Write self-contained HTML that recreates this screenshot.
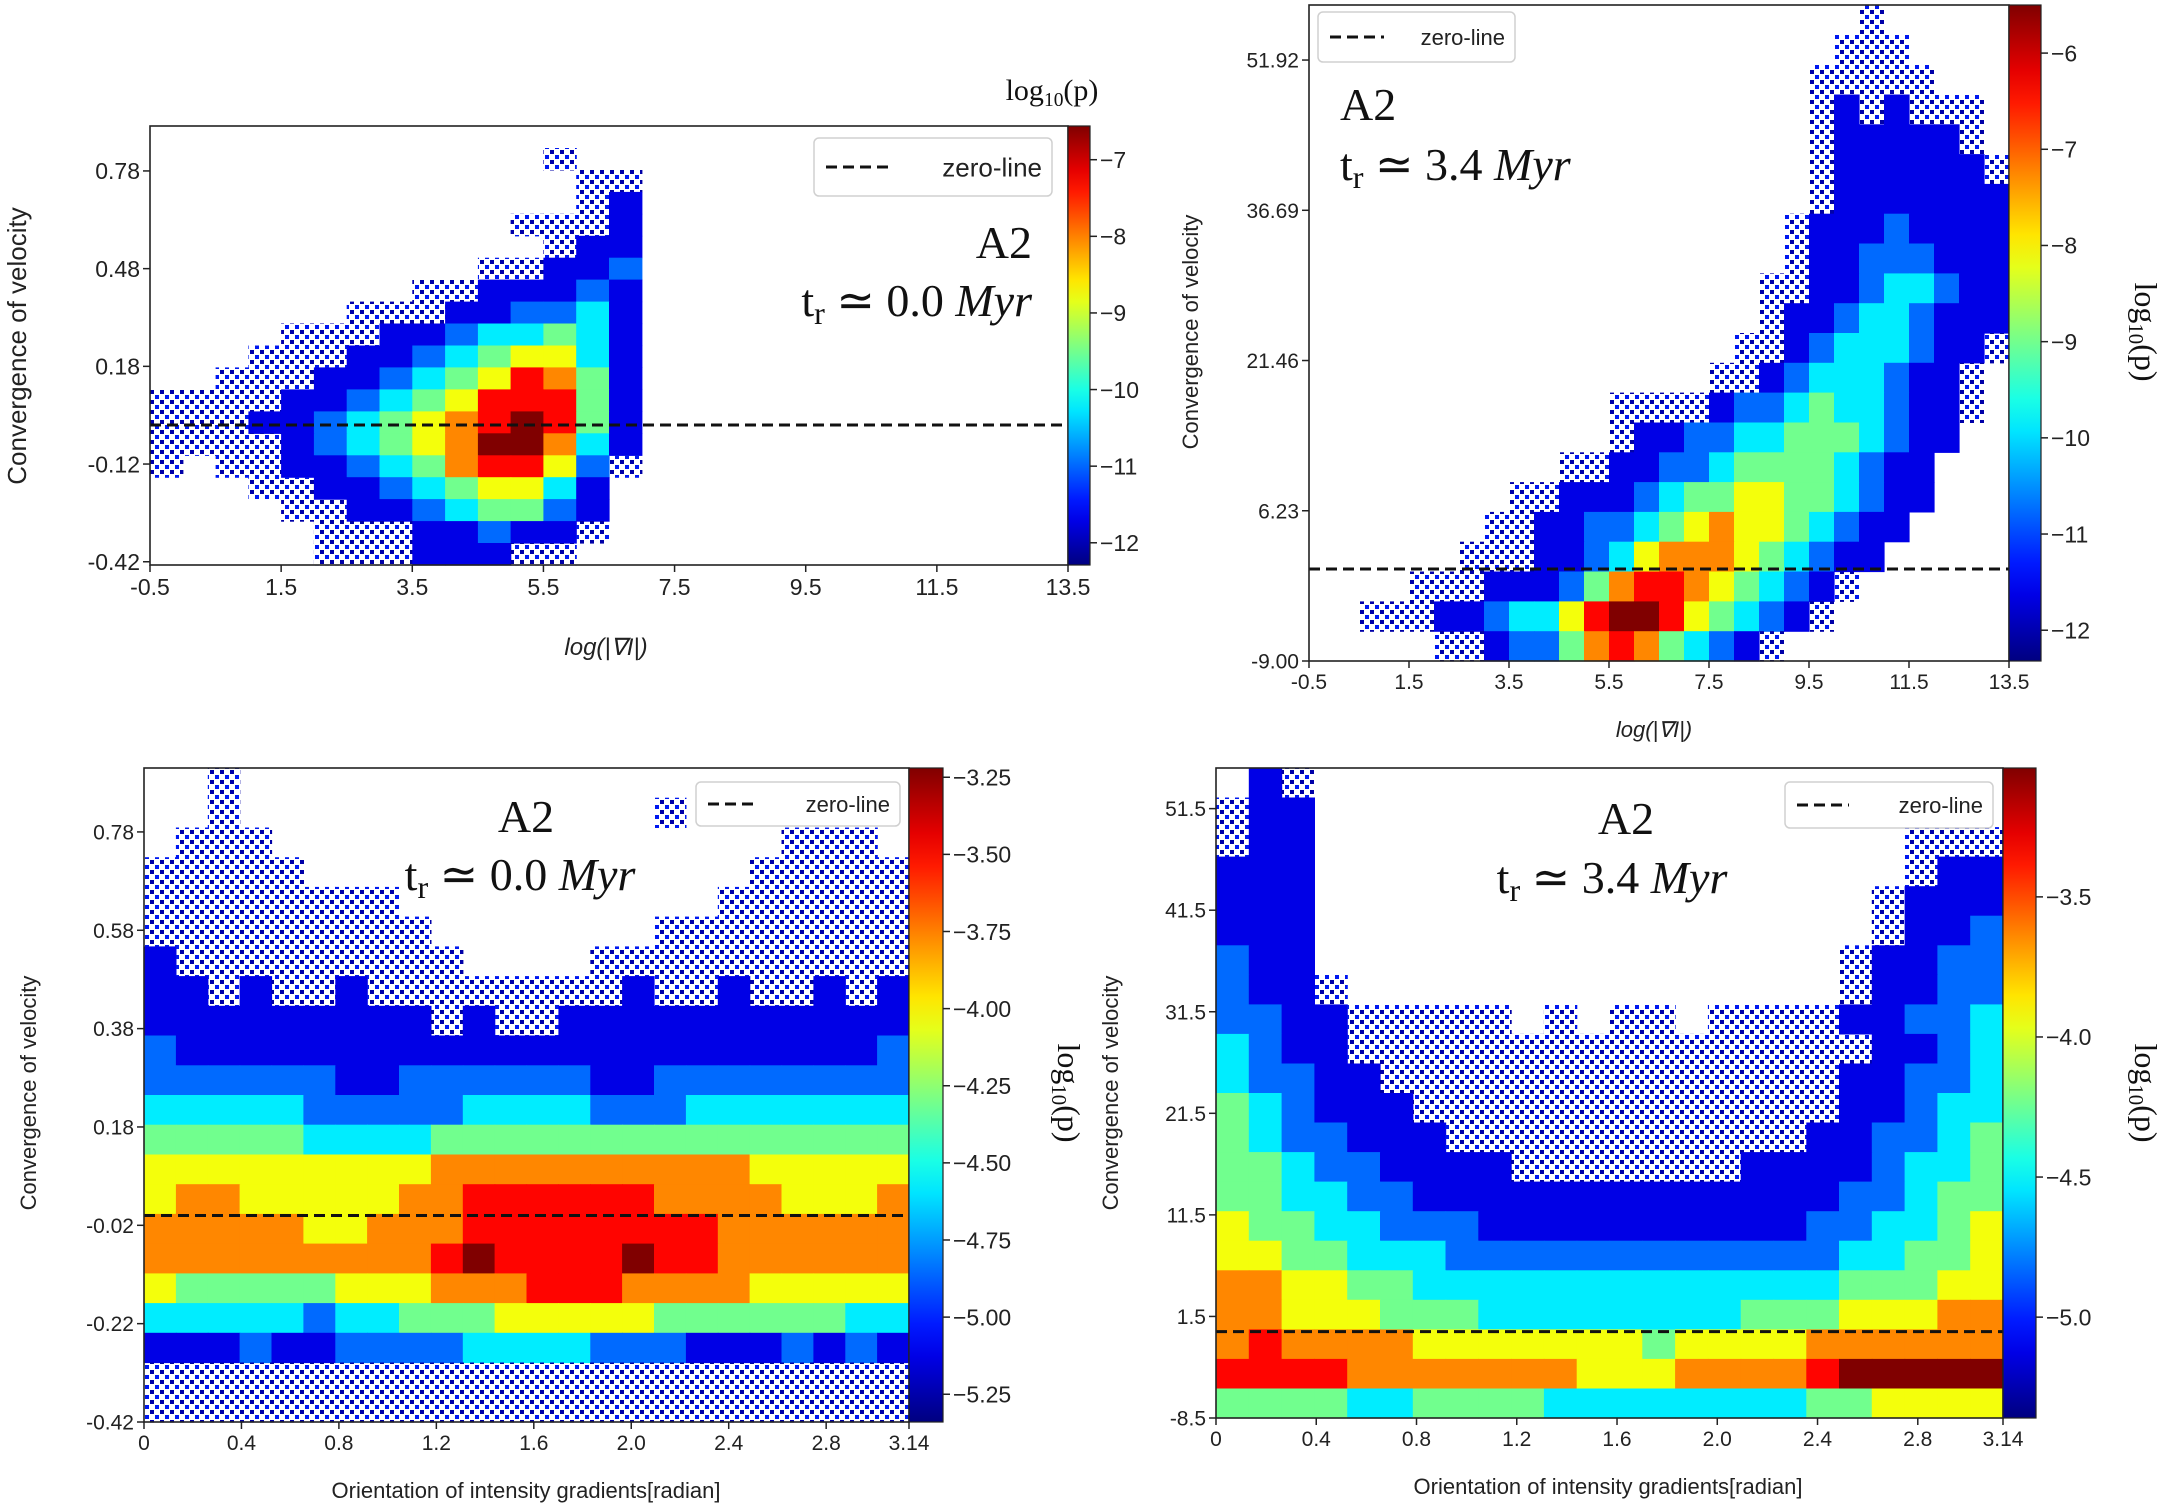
<!DOCTYPE html>
<html><head><meta charset="utf-8">
<style>
html,body{margin:0;padding:0;background:#fff;}
svg{display:block;}
text{font-family:"Liberation Sans",sans-serif;fill:#222;}
.serif{font-family:"Liberation Serif",serif;fill:#111;}
</style></head>
<body>
<svg id="fig" xmlns="http://www.w3.org/2000/svg" width="2170" height="1507" viewBox="0 0 2170 1507">
<defs>
<pattern id="sparse" width="10" height="10" patternUnits="userSpaceOnUse">
<rect x="0" y="0" width="4" height="4" fill="#0000a8"/>
<rect x="5" y="5" width="4" height="4" fill="#0018f0"/>
</pattern>
</defs>
</svg>
<script>
// ---------- Panel 1 data (levels 0=empty,1=sparse,2..9 blue->dark red) ----------
const p1XTicks=[-0.5,1.5,3.5,5.5,7.5,9.5,11.5,13.5];
const p1XTickLabels=["-0.5","1.5","3.5","5.5","7.5","9.5","11.5","13.5"];
const p1YTicks=[0.78,0.48,0.18,-0.12,-0.42];
const p1YTickLabels=["0.78","0.48","0.18","-0.12","-0.42"];
const p1CbTicks=[-7,-8,-9,-10,-11,-12];
const p1CbTickLabels=["\u22127","\u22128","\u22129","\u221210","\u221211","\u221212"];
const p1Grid=[
[0,0,0,0,0,0,0,0,0,0,0,0,0,0,0,0],
[0,0,0,0,0,0,0,0,0,0,0,0,1,0,0,0],
[0,0,0,0,0,0,0,0,0,0,0,0,0,1,1,0],
[0,0,0,0,0,0,0,0,0,0,0,0,0,1,2,0],
[0,0,0,0,0,0,0,0,0,0,0,1,1,1,2,0],
[0,0,0,0,0,0,0,0,0,0,0,0,1,2,2,0],
[0,0,0,0,0,0,0,0,0,0,1,1,2,2,3,0],
[0,0,0,0,0,0,0,0,1,1,2,2,2,3,2,0],
[0,0,0,0,0,0,1,1,1,2,2,3,3,4,2,0],
[0,0,0,0,1,1,1,2,2,3,4,4,5,4,2,0],
[0,0,0,1,1,1,2,2,3,4,5,6,6,4,2,0],
[0,0,1,1,1,2,2,3,4,5,6,8,7,5,2,0],
[1,1,1,1,2,2,3,4,5,6,8,8,8,5,2,0],
[1,1,1,2,2,3,4,5,6,7,8,9,8,5,2,0],
[1,1,1,1,2,3,4,5,6,7,9,9,7,4,2,0],
[1,0,1,1,2,2,3,4,5,7,8,8,6,3,1,0],
[0,0,0,1,1,2,2,3,4,5,6,6,4,2,0,0],
[0,0,0,0,1,1,2,2,3,4,5,5,3,2,0,0],
[0,0,0,0,0,1,1,1,2,2,3,2,2,1,0,0],
[0,0,0,0,0,1,1,1,2,2,2,1,1,0,0,0]];
// ---------- Panel 2 data ----------
const p2XTicks=[-0.5,1.5,3.5,5.5,7.5,9.5,11.5,13.5];
const p2XTickLabels=["-0.5","1.5","3.5","5.5","7.5","9.5","11.5","13.5"];
const p2YTicks=[51.92,36.69,21.46,6.23,-9.0];
const p2YTickLabels=["51.92","36.69","21.46","6.23","-9.00"];
const p2CbTicks=[-6,-7,-8,-9,-10,-11,-12];
const p2CbTickLabels=["\u22126","\u22127","\u22128","\u22129","\u221210","\u221211","\u221212"];
const p2Grid=[
[0,0,0,0,0,0,0,0,0,0,0,0,0,0,0,0,0,0,0,0,0,0,1,0,0,0,0,0],
[0,0,0,0,0,0,0,0,0,0,0,0,0,0,0,0,0,0,0,0,0,1,1,1,0,0,0,0],
[0,0,0,0,0,0,0,0,0,0,0,0,0,0,0,0,0,0,0,0,1,1,1,1,1,0,0,0],
[0,0,0,0,0,0,0,0,0,0,0,0,0,0,0,0,0,0,0,0,1,2,1,2,1,1,1,0],
[0,0,0,0,0,0,0,0,0,0,0,0,0,0,0,0,0,0,0,0,1,2,2,2,2,2,1,0],
[0,0,0,0,0,0,0,0,0,0,0,0,0,0,0,0,0,0,0,0,1,2,2,2,2,2,2,1],
[0,0,0,0,0,0,0,0,0,0,0,0,0,0,0,0,0,0,0,0,1,2,2,2,2,2,2,2],
[0,0,0,0,0,0,0,0,0,0,0,0,0,0,0,0,0,0,0,1,2,2,2,3,2,2,2,2],
[0,0,0,0,0,0,0,0,0,0,0,0,0,0,0,0,0,0,0,1,2,2,3,3,3,2,2,2],
[0,0,0,0,0,0,0,0,0,0,0,0,0,0,0,0,0,0,1,1,2,2,3,4,4,3,2,2],
[0,0,0,0,0,0,0,0,0,0,0,0,0,0,0,0,0,0,1,2,2,3,4,4,3,2,2,2],
[0,0,0,0,0,0,0,0,0,0,0,0,0,0,0,0,0,1,1,2,3,4,4,4,3,2,2,1],
[0,0,0,0,0,0,0,0,0,0,0,0,0,0,0,0,1,1,2,3,4,4,4,3,2,2,1,0],
[0,0,0,0,0,0,0,0,0,0,0,0,1,1,1,1,2,3,3,4,5,4,4,3,2,2,1,0],
[0,0,0,0,0,0,0,0,0,0,0,0,1,2,2,3,3,4,4,5,5,5,4,3,2,2,0,0],
[0,0,0,0,0,0,0,0,0,0,1,1,2,2,3,3,4,5,5,5,5,4,3,2,2,0,0,0],
[0,0,0,0,0,0,0,0,1,1,2,2,2,3,4,5,5,6,6,5,5,4,3,2,2,0,0,0],
[0,0,0,0,0,0,0,1,1,2,2,3,3,4,5,6,7,6,6,5,4,3,2,2,0,0,0,0],
[0,0,0,0,0,0,1,1,1,2,2,3,4,6,7,7,7,6,5,4,3,2,2,0,0,0,0,0],
[0,0,0,0,1,1,1,2,2,2,3,5,7,8,8,7,6,5,4,3,2,1,0,0,0,0,0,0],
[0,0,1,1,1,2,2,3,4,4,6,8,9,9,8,6,5,4,3,2,1,0,0,0,0,0,0,0],
[0,0,0,0,0,1,1,2,3,3,5,7,8,7,5,4,3,2,1,0,0,0,0,0,0,0,0,0]];
// ---------- Panel 3 data ----------
const p3XTicks=[0,0.4,0.8,1.2,1.6,2.0,2.4,2.8,3.14];
const p3XTickLabels=["0","0.4","0.8","1.2","1.6","2.0","2.4","2.8","3.14"];
const p3YTicks=[0.78,0.58,0.38,0.18,-0.02,-0.22,-0.42];
const p3YTickLabels=["0.78","0.58","0.38","0.18","-0.02","-0.22","-0.42"];
const p3CbTicks=[-3.25,-3.5,-3.75,-4.0,-4.25,-4.5,-4.75,-5.0,-5.25];
const p3CbTickLabels=["\u22123.25","\u22123.50","\u22123.75","\u22124.00","\u22124.25","\u22124.50","\u22124.75","\u22125.00","\u22125.25"];
const p3Grid=[
[0,0,1,0,0,0,0,0,0,0,0,0,0,0,0,0,0,0,0,0,0,0,0,0],
[0,0,1,0,0,0,0,0,0,0,0,0,0,0,0,0,1,0,0,0,0,0,0,0],
[0,1,1,1,0,0,0,0,0,0,0,0,0,0,0,0,0,0,0,0,1,1,1,0],
[1,1,1,1,1,0,0,0,0,0,0,0,0,0,0,0,0,0,0,1,1,1,1,1],
[1,1,1,1,1,1,1,1,0,0,0,0,0,0,0,0,0,0,1,1,1,1,1,1],
[1,1,1,1,1,1,1,1,1,0,0,0,0,0,0,0,1,1,1,1,1,1,1,1],
[2,1,1,1,1,1,1,1,1,1,0,0,0,0,1,1,1,1,1,1,1,1,1,1],
[2,2,1,2,1,1,2,1,1,1,1,1,1,1,1,2,1,1,2,1,1,2,1,2],
[2,2,2,2,2,2,2,2,2,1,2,1,1,2,2,2,2,2,2,2,2,2,2,2],
[3,2,2,2,2,2,2,2,2,2,2,2,2,2,2,2,2,2,2,2,2,2,2,3],
[3,3,3,3,3,3,2,2,3,3,3,3,3,3,2,2,3,3,3,3,3,3,3,3],
[4,4,4,4,4,3,3,3,3,3,4,4,4,4,3,3,3,4,4,4,4,4,4,4],
[5,5,5,5,5,4,4,4,4,5,5,5,5,5,5,5,5,5,5,5,5,5,5,5],
[6,6,6,6,6,6,6,6,6,7,7,7,7,7,7,7,7,7,7,6,6,6,6,6],
[6,7,7,6,6,6,6,6,7,7,8,8,8,8,8,8,7,7,7,7,6,6,6,7],
[7,7,7,7,7,6,6,7,7,7,8,8,8,8,8,8,8,8,7,7,7,7,7,7],
[7,7,7,7,7,7,7,7,7,8,9,8,8,8,8,9,8,8,7,7,7,7,7,7],
[6,5,5,5,5,5,6,6,6,7,7,7,8,8,8,7,7,7,7,6,6,6,6,6],
[4,4,4,4,4,3,4,4,5,5,5,6,6,6,6,6,5,5,5,5,5,5,4,4],
[2,2,2,3,2,2,3,3,3,3,4,4,4,4,3,3,3,2,2,2,3,2,3,2],
[1,1,1,1,1,1,1,1,1,1,1,1,1,1,1,1,1,1,1,1,1,1,1,1],
[1,1,1,1,1,1,1,1,1,1,1,1,1,1,1,1,1,1,1,1,1,1,1,1]];
// ---------- Panel 4 data ----------
const p4XTicks=[0,0.4,0.8,1.2,1.6,2.0,2.4,2.8,3.14];
const p4XTickLabels=["0","0.4","0.8","1.2","1.6","2.0","2.4","2.8","3.14"];
const p4YTicks=[51.5,41.5,31.5,21.5,11.5,1.5,-8.5];
const p4YTickLabels=["51.5","41.5","31.5","21.5","11.5","1.5","-8.5"];
const p4CbTicks=[-3.5,-4.0,-4.5,-5.0];
const p4CbTickLabels=["\u22123.5","\u22124.0","\u22124.5","\u22125.0"];
const p4Grid=[
[0,2,1,0,0,0,0,0,0,0,0,0,0,0,0,0,0,0,0,0,0,0,0,0],
[1,2,2,0,0,0,0,0,0,0,0,0,0,0,0,0,0,0,0,0,0,0,0,0],
[1,2,2,0,0,0,0,0,0,0,0,0,0,0,0,0,0,0,0,0,0,1,1,1],
[2,2,2,0,0,0,0,0,0,0,0,0,0,0,0,0,0,0,0,0,0,1,2,2],
[2,2,2,0,0,0,0,0,0,0,0,0,0,0,0,0,0,0,0,0,1,2,2,2],
[2,2,2,0,0,0,0,0,0,0,0,0,0,0,0,0,0,0,0,0,1,2,2,3],
[3,2,2,0,0,0,0,0,0,0,0,0,0,0,0,0,0,0,0,1,2,2,3,3],
[3,2,2,1,0,0,0,0,0,0,0,0,0,0,0,0,0,0,0,1,2,2,3,3],
[3,3,2,2,1,1,1,1,1,0,1,0,1,1,0,1,1,1,1,2,2,3,3,4],
[4,3,2,2,1,1,1,1,1,1,1,1,1,1,1,1,1,1,1,1,2,2,3,4],
[4,3,3,2,2,1,1,1,1,1,1,1,1,1,1,1,1,1,1,2,2,3,3,4],
[5,4,3,2,2,2,1,1,1,1,1,1,1,1,1,1,1,1,1,2,2,3,4,4],
[5,4,3,3,2,2,2,1,1,1,1,1,1,1,1,1,1,1,2,2,3,3,4,5],
[5,5,4,3,3,2,2,2,2,1,1,1,1,1,1,1,2,2,2,2,3,4,4,5],
[5,5,4,4,3,3,2,2,2,2,2,2,2,2,2,2,2,2,2,3,3,4,5,5],
[6,5,5,4,4,3,3,3,2,2,2,2,2,2,2,2,2,2,3,3,4,4,5,6],
[6,6,5,5,4,4,4,3,3,3,3,3,3,3,3,3,3,3,3,4,4,5,5,6],
[7,7,6,6,5,5,4,4,4,4,4,4,4,4,4,4,4,4,4,5,5,5,6,6],
[7,7,6,6,6,5,5,5,4,4,4,4,4,4,4,4,5,5,5,6,6,6,7,7],
[7,8,7,7,7,7,6,6,6,6,6,6,6,5,6,6,6,6,7,7,7,7,7,7],
[8,8,8,8,7,7,7,7,7,7,7,6,6,6,7,7,7,7,8,9,9,9,9,9],
[5,5,5,5,4,4,5,5,5,5,4,4,4,4,4,4,4,4,5,5,6,6,6,6]];

const NS="http://www.w3.org/2000/svg";
const svg=document.getElementById('fig');
function mk(tag,attrs,parent){const e=document.createElementNS(NS,tag);for(const k in attrs)e.setAttribute(k,attrs[k]);(parent||svg).appendChild(e);return e;}
function cl(v){return Math.max(0,Math.min(1,v));}
function jet(t){const r=cl(1.5-Math.abs(4*t-3)),g=cl(1.5-Math.abs(4*t-2)),b=cl(1.5-Math.abs(4*t-1));
return 'rgb('+Math.round(r*255)+','+Math.round(g*255)+','+Math.round(b*255)+')';}
function levelColor(L){if(L===1)return 'url(#sparse)';return jet(0.1+(L-2)/7*0.9);}

const defs=svg.querySelector('defs');
const grad=mk('linearGradient',{id:'jetgrad',x1:'0',y1:'1',x2:'0',y2:'0'},defs);
for(let i=0;i<=20;i++){mk('stop',{offset:(i/20),'stop-color':jet(i/20)},grad);}

function panel(c){
  const g=mk('g',{});
  
  
  const sx=v=>c.x0+(v-c.xmin)/(c.xmax-c.xmin)*(c.x1-c.x0);
  const sy=v=>c.y1-(v-c.ymin)/(c.ymax-c.ymin)*(c.y1-c.y0);
  const grid=c.grid, nr=grid.length, nc=c.ncols;
  const dx=(c.xmax-c.xmin)/nc, dy=(c.ymax-c.ymin)/nr;
  const hm=mk('g',{},g);
  
  
  for(let r=0;r<nr;r++){for(let i=0;i<nc;i++){
    const L=grid[r][i]||0; if(!L)continue;
    const xa=sx(c.xmin+i*dx), xb=sx(c.xmin+(i+1)*dx);
    const ya=sy(c.ymax-r*dy), yb=sy(c.ymax-(r+1)*dy);
    const cell=mk('rect',{x:xa.toFixed(1),y:ya.toFixed(1),width:(xb-xa+0.6).toFixed(1),height:(yb-ya+0.6).toFixed(1),fill:levelColor(L)},hm);
    
    
  }}
  const zl=mk('line',{x1:c.x0,x2:c.x1,y1:sy(c.zero),y2:sy(c.zero),stroke:'#111','stroke-width':3,'stroke-dasharray':'11,6'},g);
  
  
  const fr=mk('rect',{x:c.x0,y:c.y0,width:c.x1-c.x0,height:c.y1-c.y0,fill:'none',stroke:'#222','stroke-width':1.6},g);
  
  
  c.xt.forEach((v,k)=>{const X=sx(v);
    const tk=mk('line',{x1:X,x2:X,y1:c.y1,y2:c.y1+7,stroke:'#222','stroke-width':1.5},g);
    
    
    const t=mk('text',{x:X,y:c.y1+7+c.fs,'text-anchor':'middle','font-size':c.fs},g);t.textContent=c.xtl[k];
    
    });
  c.yt.forEach((v,k)=>{const Y=sy(v);
    const tk=mk('line',{x1:c.x0-7,x2:c.x0,y1:Y,y2:Y,stroke:'#222','stroke-width':1.5},g);
    
    
    const t=mk('text',{x:c.x0-10,y:Y+c.fs*0.36,'text-anchor':'end','font-size':c.fs},g);t.textContent=c.ytl[k];
    
    });
  const cb=mk('rect',{x:c.cbx,y:c.y0,width:c.cbw,height:c.y1-c.y0,fill:'url(#jetgrad)',stroke:'#222','stroke-width':1.2},g);
  
  
  const cy=v=>c.y1-(v-c.cmin)/(c.cmax-c.cmin)*(c.y1-c.y0);
  c.ct.forEach((v,k)=>{const Y=cy(v);
    const tk=mk('line',{x1:c.cbx+c.cbw,x2:c.cbx+c.cbw+7,y1:Y,y2:Y,stroke:'#222','stroke-width':1.5},g);
    
    
    const t=mk('text',{x:c.cbx+c.cbw+10,y:Y+c.cfs*0.36,'font-size':c.cfs},g);t.textContent=c.ctl[k];
    
    });
  const lg=mk('g',{},g);
  
  
  const L=c.leg;
  mk('rect',{x:L[0],y:L[1],width:L[2],height:L[3],rx:5,fill:'#fff','fill-opacity':0.85,stroke:'#d0d0d0','stroke-width':1.5},lg);
  mk('line',{x1:L[0]+12,x2:L[0]+12+L[4],y1:L[1]+L[3]/2,y2:L[1]+L[3]/2,stroke:'#111','stroke-width':3,'stroke-dasharray':'11,6'},lg);
  const lt=mk('text',{x:L[0]+L[2]-10,y:L[1]+L[3]/2+L[5]*0.36,'text-anchor':'end','font-size':L[5]},lg);lt.textContent='zero-line';
  
  
  const a1=mk('text',{x:c.ann[0],y:c.ann[1],'text-anchor':c.ann[3],'font-size':c.ann[2],class:'serif'},g);a1.textContent='A2';
  
  
  const a2=mk('text',{x:c.ann[4],y:c.ann[5],'text-anchor':c.ann[3],'font-size':c.ann[2],class:'serif'},g);
  a2.innerHTML='t<tspan font-size="'+(c.ann[2]*0.7)+'" dy="8">r</tspan><tspan dy="-8"> \u2243 '+c.time+' </tspan><tspan font-style="italic">Myr</tspan>';
  
  
  const xl=mk('text',{x:c.xl[0],y:c.xl[1],'text-anchor':'middle','font-size':c.xl[2],'font-style':c.xl[4]||'normal'},g);xl.textContent=c.xl[3];
  
  
  const yl=mk('text',{x:0,y:0,'text-anchor':'middle','font-size':c.yl[2],transform:'translate('+c.yl[0]+','+c.yl[1]+') rotate(-90)'},g);yl.textContent='Convergence of velocity';
  
  
  const cl2=mk('text',{x:0,y:0,'text-anchor':'middle','font-size':c.cl[2],class:'serif',transform:'translate('+c.cl[0]+','+c.cl[1]+') rotate('+c.cl[3]+')'},g);
  cl2.innerHTML='log<tspan font-size="'+(c.cl[2]*0.65)+'" dy="6">10</tspan><tspan dy="-6">(p)</tspan>';
  
  
}

panel({name:'panel-gradient-t0',x0:150,x1:1068,y0:126,y1:565,xmin:-0.5,xmax:13.5,ymin:-0.43,ymax:0.918,ncols:28,grid:p1Grid,zero:0.0,
 xt:p1XTicks,xtl:p1XTickLabels,yt:p1YTicks,ytl:p1YTickLabels,fs:23,
 cbx:1068,cbw:22,cmin:-12.29,cmax:-6.56,ct:p1CbTicks,ctl:p1CbTickLabels,cfs:23,
 leg:[814,138,238,58,62,26],ann:[1032,258,46,'end',1032,316],time:'0.0',
 xl:[606,655,24,'log(|\u2207I|)','italic'],yl:[26,346,26],cl:[1052,100,30,0]});
panel({name:'panel-gradient-t34',x0:1309,x1:2009,y0:5,y1:661,xmin:-0.5,xmax:13.5,ymin:-9.0,ymax:57.5,ncols:28,grid:p2Grid,zero:0.33,
 xt:p2XTicks,xtl:p2XTickLabels,yt:p2YTicks,ytl:p2YTickLabels,fs:21,
 cbx:2009,cbw:32,cmin:-12.32,cmax:-5.5,ct:p2CbTicks,ctl:p2CbTickLabels,cfs:23,
 leg:[1318,12,197,50,54,22],ann:[1340,120,46,'start',1340,180],time:'3.4',
 xl:[1654,737,22,'log(|\u2207I|)','italic'],yl:[1198,332,22],cl:[2135,332,32,90]});
panel({name:'panel-orientation-t0',x0:144,x1:909,y0:768,y1:1422,xmin:0,xmax:3.14,ymin:-0.42,ymax:0.91,ncols:24,grid:p3Grid,zero:0.0,
 xt:p3XTicks,xtl:p3XTickLabels,yt:p3YTicks,ytl:p3YTickLabels,fs:21,
 cbx:909,cbw:34,cmin:-5.34,cmax:-3.22,ct:p3CbTicks,ctl:p3CbTickLabels,cfs:23,
 leg:[696,782,204,44,50,22],ann:[526,832,46,'middle',520,890],time:'0.0',
 xl:[526,1498,22,'Orientation of intensity gradients[radian]'],yl:[36,1093,22],cl:[1058,1093,32,90]});
panel({name:'panel-orientation-t34',x0:1216,x1:2003,y0:768,y1:1418,xmin:0,xmax:3.14,ymin:-8.5,ymax:55.5,ncols:24,grid:p4Grid,zero:0.0,
 xt:p4XTicks,xtl:p4XTickLabels,yt:p4YTicks,ytl:p4YTickLabels,fs:21,
 cbx:2003,cbw:33,cmin:-5.36,cmax:-3.04,ct:p4CbTicks,ctl:p4CbTickLabels,cfs:23,
 leg:[1785,782,208,46,52,22],ann:[1626,834,46,'middle',1612,893],time:'3.4',
 xl:[1608,1494,22,'Orientation of intensity gradients[radian]'],yl:[1118,1093,22],cl:[2135,1093,32,90]});
</script>
</body></html>
